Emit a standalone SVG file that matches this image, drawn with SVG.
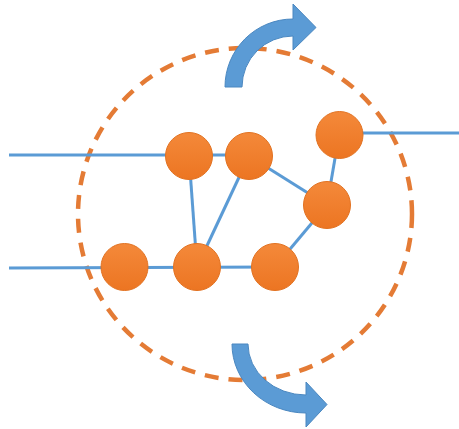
<svg xmlns="http://www.w3.org/2000/svg" width="459" height="429" viewBox="0 0 459 429">
<style>
.edge{stroke:#5B9BD5;stroke-width:3;fill:none}
.node{fill:url(#ng);stroke:#E27221;stroke-width:1}
.ring{fill:none;stroke:#E47B35;stroke-width:4.5;stroke-dasharray:14 10}
.arrow{fill:#5B9BD5;stroke:#4A87C0;stroke-width:1}
</style>
<defs>
<linearGradient id="ng" x1="0" y1="0" x2="0" y2="1">
<stop offset="0" stop-color="#F4893A"/>
<stop offset="1" stop-color="#EC7522"/>
</linearGradient>
</defs>
<rect width="459" height="429" fill="#ffffff"/>
<ellipse id="ring" class="ring" cx="245" cy="214" rx="167" ry="166"/>
<g id="connectors">
<line class="edge" x1="9" y1="155" x2="249" y2="155"/>
<line class="edge" x1="339" y1="133" x2="459" y2="133"/>
<line class="edge" x1="9" y1="268" x2="275" y2="267"/>
<line class="edge" x1="189" y1="156" x2="197" y2="267"/>
<line class="edge" x1="249" y1="156" x2="197" y2="267"/>
<line class="edge" x1="249" y1="156" x2="327" y2="205"/>
<line class="edge" x1="327" y1="205" x2="339" y2="135"/>
<line class="edge" x1="275" y1="267" x2="327" y2="205"/>
</g>
<g id="n1"><circle class="node" cx="189" cy="156" r="23.5"/></g>
<g id="n2"><circle class="node" cx="249" cy="156" r="23.5"/></g>
<g id="n3"><circle class="node" cx="339.5" cy="135" r="23.5"/></g>
<g id="n4"><circle class="node" cx="327" cy="205" r="23.5"/></g>
<g id="n5"><circle class="node" cx="124.5" cy="267" r="23.5"/></g>
<g id="n6"><circle class="node" cx="197" cy="267" r="23.5"/></g>
<g id="n7"><circle class="node" cx="275" cy="267" r="23.5"/></g>
<g id="arrow-top"><path class="arrow" d="M225,87 A68,68 0 0 1 293,19 L293,4 L316,27.5 L293,50 L293,36 A51,51 0 0 0 242,87 Z"/></g>
<g id="arrow-bottom"><path class="arrow" d="M232,344 A74,69 0 0 0 306,413 L306,427 L327,404.5 L306,382 L306,395 A58,51 0 0 1 248,344 Z"/></g>
</svg>
